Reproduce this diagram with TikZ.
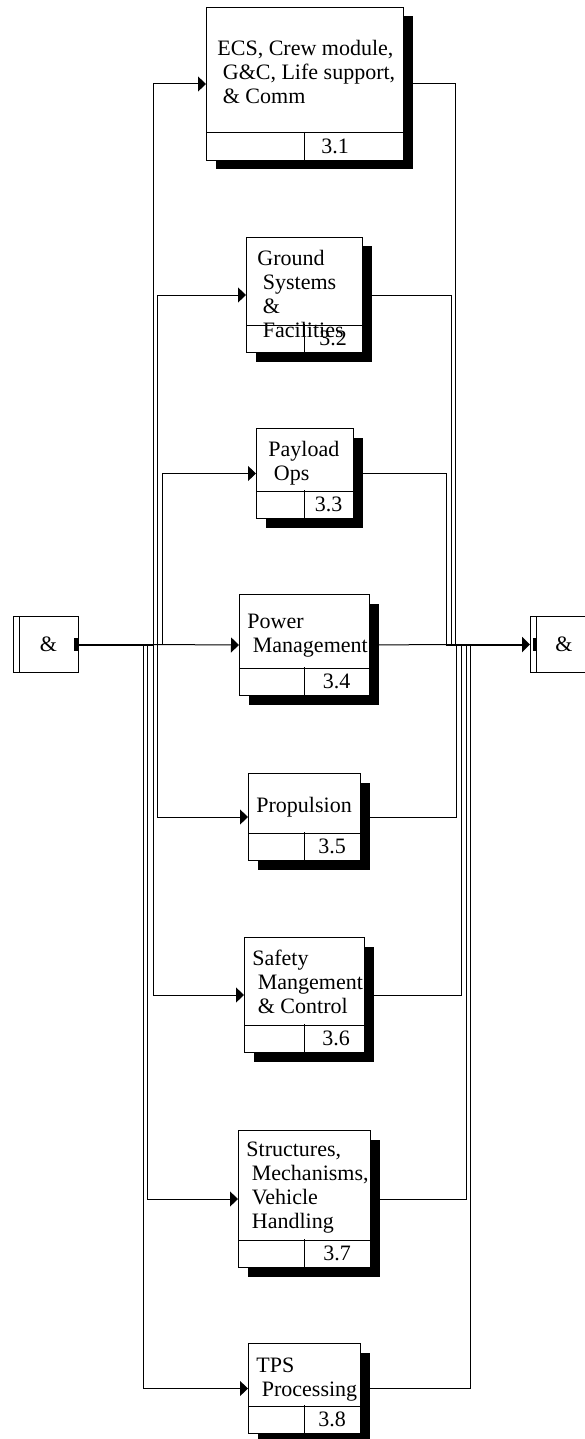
\documentclass[tikz,border=0pt]{standalone}
\usepackage{fontspec}
\setmainfont{Liberation Serif}
\usetikzlibrary{arrows.meta,shadows}
\tikzset{
  fnbox/.style={draw, fill=white, line width=0.5pt, anchor=north west, inner sep=0pt,
    drop shadow={shadow xshift=4.5pt, shadow yshift=-4.5pt, fill=black, opacity=1}},
  fntext/.style={anchor=base west, align=left, inner sep=0pt, font=\fontsize{11}{12}\selectfont},
  fnnum/.style={inner sep=0pt, font=\fontsize{11}{12}\selectfont},
  junction/.style={draw, fill=white, line width=0.5pt, anchor=north west, inner sep=0pt, minimum width=32.5pt, minimum height=28pt},
  link/.style={line width=0.5pt},
  flow/.style={-{Triangle[length=4pt,width=7.5pt]}, line width=0.5pt},
  bigflow/.style={line width=1pt},
}
\begin{document}
\begin{tikzpicture}[x=0.5pt,y=-0.5pt]
  \useasboundingbox (0,0) rectangle (584,1439);

  % Junctions
  \node[junction] (inL) at (13,616) {};
  \draw[link] ([xshift=3pt]inL.north west) -- ([xshift=3pt]inL.south west);
  \fill (74,638) rectangle (78,651);
  \node[fnnum] (ampL) at (48.5,644) {\&};

  \node[junction, minimum width=40pt] (outR) at (530,616) {};
  \draw[link] ([xshift=3pt]outR.north west) -- ([xshift=3pt]outR.south west);
  \fill (533,638) rectangle (536,651);
  \node[fnnum] (ampR) at (564,644) {\&};

  % Function boxes (text anchored on its last line)
  \node[fnbox, minimum width=98.5pt, minimum height=76.5pt] (b31) at (206,7) {};
  \draw[link] ([yshift=14pt]b31.south west) -- ([yshift=14pt]b31.south east);
  \draw[link] (304,132) -- (304,160);
  \node[fntext] (t31) at (217,104) {ECS, Crew module,\\\ G\&C, Life support,\\\ \& Comm};
  \node[fnnum] (n31) at (335,146) {3.1};

  \node[fnbox, minimum width=58pt, minimum height=57.5pt] (b32) at (246,237) {};
  \draw[link] ([yshift=14pt]b32.south west) -- ([yshift=14pt]b32.south east);
  \draw[link] (304,324) -- (304,352);
  \node[fntext] (t32) at (257,337) {Ground\\\ Systems\\\ \&\\\ Facilities};
  \node[fnnum] (n32) at (333,338) {3.2};

  \node[fnbox, minimum width=48.5pt, minimum height=45pt] (b33) at (256,428) {};
  \draw[link] ([yshift=14pt]b33.south west) -- ([yshift=14pt]b33.south east);
  \draw[link] (304,490) -- (304,518);
  \node[fntext] (t33) at (268,480) {Payload\\\ Ops};
  \node[fnnum] (n33) at (328.5,504) {3.3};

  \node[fnbox, minimum width=65pt, minimum height=50.5pt] (b34) at (239,594) {};
  \draw[link] ([yshift=14pt]b34.south west) -- ([yshift=14pt]b34.south east);
  \draw[link] (304,667) -- (304,695);
  \node[fntext] (t34) at (247,652) {Power\\\ Management};
  \node[fnnum] (n34) at (336.5,681) {3.4};

  \node[fnbox, minimum width=56pt, minimum height=43.5pt] (b35) at (248,773) {};
  \draw[link] ([yshift=14pt]b35.south west) -- ([yshift=14pt]b35.south east);
  \draw[link] (304,832) -- (304,860);
  \node[fntext] (t35) at (256,812) {Propulsion};
  \node[fnnum] (n35) at (332,846) {3.5};

  \node[fnbox, minimum width=60pt, minimum height=57.5pt] (b36) at (244,937) {};
  \draw[link] ([yshift=14pt]b36.south west) -- ([yshift=14pt]b36.south east);
  \draw[link] (304,1024) -- (304,1052);
  \node[fntext] (t36) at (252,1013) {Safety\\\ Mangement\\\ \& Control};
  \node[fnnum] (n36) at (336,1038) {3.6};

  \node[fnbox, minimum width=66pt, minimum height=68.5pt] (b37) at (238,1130) {};
  \draw[link] ([yshift=14pt]b37.south west) -- ([yshift=14pt]b37.south east);
  \draw[link] (304,1239) -- (304,1267);
  \node[fntext] (t37) at (246,1228) {Structures,\\\ Mechanisms,\\\ Vehicle\\\ Handling};
  \node[fnnum] (n37) at (337,1253) {3.7};

  \node[fnbox, minimum width=56pt, minimum height=45pt] (b38) at (248,1343) {};
  \draw[link] ([yshift=14pt]b38.south west) -- ([yshift=14pt]b38.south east);
  \draw[link] (304,1405) -- (304,1433);
  \node[fntext] (t38) at (256,1396) {TPS\\\ Processing};
  \node[fnnum] (n38) at (332,1419) {3.8};

  % Branch points
  \coordinate (jin) at (153,644.5);
  \coordinate (jl31) at (153,644.5);
  \coordinate (jl32) at (157,644.5);
  \coordinate (jl33) at (162,644.5);
  \coordinate (jl35) at (157,644.5);
  \coordinate (jl36) at (153,644.5);
  \coordinate (jl37) at (147,644.5);
  \coordinate (jl38) at (143,644.5);
  \coordinate (jout) at (446,644.5);
  \coordinate (jr31) at (455,644.5);
  \coordinate (jr32) at (451,644.5);
  \coordinate (jr33) at (446,644.5);
  \coordinate (jr35) at (456,644.5);
  \coordinate (jr36) at (461,644.5);
  \coordinate (jr37) at (466,644.5);
  \coordinate (jr38) at (470,644.5);

  % Inputs
  \draw[bigflow] (inL.east |- jin) -- (jin);
  \draw[flow] (jl31) |- (b31.west);
  \draw[flow] (jl32) |- (b32.west);
  \draw[flow] (jl33) |- (b33.west);
  \draw[flow] (jin) -- (b34.west);
  \draw[flow] (jl35) |- (b35.west);
  \draw[flow] (jl36) |- (b36.west);
  \draw[flow] (jl37) |- (b37.west);
  \draw[flow] (jl38) |- (b38.west);

  % Outputs
  \draw[link] (b31.east) -| (jr31);
  \draw[link] (b32.east) -| (jr32);
  \draw[link] (b33.east) -| (jr33);
  \draw[link] (b34.east) -- (jout);
  \draw[link] (b35.east) -| (jr35);
  \draw[link] (b36.east) -| (jr36);
  \draw[link] (b37.east) -| (jr37);
  \draw[link] (b38.east) -| (jr38);
  \draw[bigflow, -{Triangle[length=4pt,width=7.5pt]}] (jout) -- (outR.west |- jout);
\end{tikzpicture}
\end{document}
